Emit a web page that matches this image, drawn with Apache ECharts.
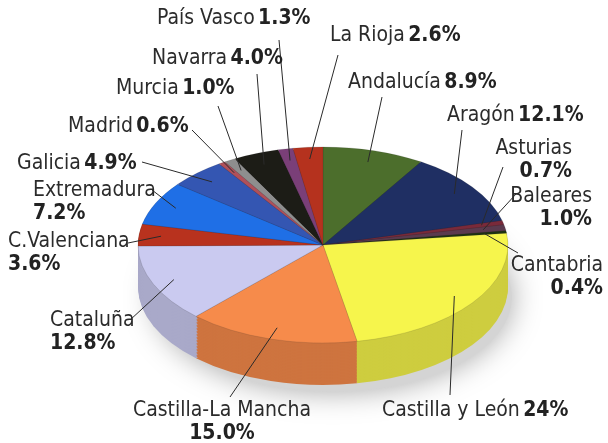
<!DOCTYPE html>
<html>
<head>
<meta charset="utf-8">
<script src="https://cdn.jsdelivr.net/npm/echarts@6/dist/echarts.min.js"></script>
<style>
html, body { margin: 0; padding: 0; background: #fff; }
#chart { width: 608px; height: 443px; }
</style>
</head>
<body>
<div id="chart"></div>
<script>
var regions = ["Andalucía", "Aragón", "Asturias", "Baleares", "Cantabria",
  "Castilla y León", "Castilla-La Mancha", "Cataluña", "C.Valenciana",
  "Extremadura", "Galicia", "Madrid", "Murcia", "Navarra", "País Vasco", "La Rioja"];
var shares = [8.9, 12.1, 0.7, 1.0, 0.4, 24, 15.0, 12.8, 3.6, 7.2, 4.9, 0.6, 1.0, 4.0, 1.3, 2.6];
var shareText = ["8.9%", "12.1%", "0.7%", "1.0%", "0.4%", "24%", "15.0%", "12.8%",
  "3.6%", "7.2%", "4.9%", "0.6%", "1.0%", "4.0%", "1.3%", "2.6%"];
var twoLine = [false, false, true, true, true, false, true, true, true, true, false, false, false, false, false, false];

var colors = ["#4c6e2c", "#1f2f63", "#7a2a3a", "#5b3a4e", "#1d3311", "#f6f54c", "#f68b4b",
  "#cacaf0", "#b8321e", "#1f6fe6", "#3456b2", "#b0505a", "#8e8e8e", "#1c1c16", "#7a3f78", "#b5321e"];

// label placement: [x, y, align, lineEndX, lineEndY]
var labelAt = [
  [348, 71, "left", 382, 97],
  [447, 104, "left", 462, 130],
  [572, 137, "right", 503, 167],
  [592, 185, "right", 516, 194],
  [603, 254, "right", 518, 253],
  [382, 399, "left", 450, 395],
  [222, 399, "center", 230, 397],
  [50, 309, "left", 130, 320],
  [8, 230, "left", 128, 243],
  [33, 179, "left", 152, 190],
  [17, 152, "left", 142, 162],
  [68, 115, "left", 192, 130],
  [116, 77, "left", 218, 106],
  [152, 47, "left", 257, 74],
  [157, 7, "left", 279, 40],
  [330, 24, "left", 338, 55]
];

var CX = 323, CY = 245, R = 185, SQUASH = 0.53, DEPTH = 42;
var FONT = "'DejaVu Sans Condensed', 'Liberation Sans', sans-serif";

// stack the shares into [start, end, index] along the angle axis
var sliceData = [];
var total = 0;
shares.forEach(function (v, i) {
  sliceData.push([total, total + v, i]);
  total += v;
});

function darker(c, k) {
  var a = echarts.color.parse(c);
  return echarts.color.stringify([a[0] * k | 0, a[1] * k | 0, a[2] * k | 0, 1], "rgb");
}

// polar coord takes [radius, angle]
function sectorAngles(api, cs) {
  var a = api.coord([1, api.value(0)]);
  var b = api.coord([1, api.value(1)]);
  var sa = Math.atan2(a[1] - cs.cy, a[0] - cs.cx);
  var ea = Math.atan2(b[1] - cs.cy, b[0] - cs.cx);
  if (ea <= sa) ea += Math.PI * 2;
  return [sa, ea];
}

function renderSlice(params, api) {
  var cs = params.coordSys;
  var i = api.value(2);
  var ang = sectorAngles(api, cs);
  var side = darker(colors[i], 0.84);
  var disc = [];
  // side wall, deeper layers first
  for (var d = DEPTH; d > 0; d -= 1.5) {
    disc.push({
      type: "sector", z2: -d, silent: true,
      shape: { cx: cs.cx, cy: cs.cy + d / SQUASH, r: cs.r, r0: 0,
               startAngle: ang[0], endAngle: ang[1], clockwise: true },
      style: { fill: side }
    });
  }
  disc.push({
    type: "sector", z2: 10, silent: true,
    shape: { cx: cs.cx, cy: cs.cy, r: cs.r, r0: 0,
             startAngle: ang[0], endAngle: ang[1], clockwise: true },
    style: { fill: colors[i], stroke: "rgba(40,40,40,0.3)", lineWidth: 0.6 }
  });

  // leader line from the label into the tilted slice
  var m = api.coord([0.88, (api.value(0) + api.value(1)) / 2]);
  var anchor = [m[0], cs.cy + (m[1] - cs.cy) * SQUASH];
  var at = labelAt[i];
  var text = "{n|" + regions[i] + "}" + (twoLine[i] ? "\n" : " ") + "{b|" + shareText[i] + "}";

  return {
    type: "group",
    children: [
      { type: "group", originX: cs.cx, originY: cs.cy, scaleY: SQUASH, children: disc },
      { type: "polyline", z2: 20, silent: true,
        shape: { points: [[at[3], at[4]], anchor] },
        style: { stroke: "#2a2a2a", lineWidth: 1, fill: null } },
      { type: "text", z2: 30, silent: true, x: at[0], y: at[1],
        style: {
          text: text, align: at[2], verticalAlign: "top",
          rich: {
            n: { fontFamily: FONT, fontSize: 21, fill: "#2b2b2b", lineHeight: 23 },
            b: { fontFamily: FONT, fontSize: 21, fontWeight: "bold", fill: "#222", lineHeight: 23 }
          }
        } }
    ]
  };
}

function renderShadow(params, api) {
  var cs = params.coordSys;
  return {
    type: "group", originX: cs.cx, originY: cs.cy, scaleY: SQUASH,
    children: [{
      type: "circle", silent: true,
      shape: { cx: cs.cx + 10, cy: cs.cy + (DEPTH + 10) / SQUASH, r: cs.r - 6 },
      style: { fill: "#d4d4d4", shadowBlur: 30, shadowColor: "rgba(0,0,0,0.35)" }
    }]
  };
}

var chart = echarts.init(document.getElementById("chart"));
chart.setOption({
  animation: false,
  polar: { center: [CX, CY], radius: R },
  angleAxis: { type: "value", min: 0, max: total, startAngle: 90, clockwise: true, show: false },
  radiusAxis: { type: "value", min: 0, max: 1, show: false },
  series: [
    { type: "custom", coordinateSystem: "polar", silent: true, z: 1,
      renderItem: renderShadow, data: [[0, total, 0]] },
    { type: "custom", coordinateSystem: "polar", silent: true, z: 2,
      renderItem: renderSlice, data: sliceData }
  ]
});
</script>
</body>
</html>
